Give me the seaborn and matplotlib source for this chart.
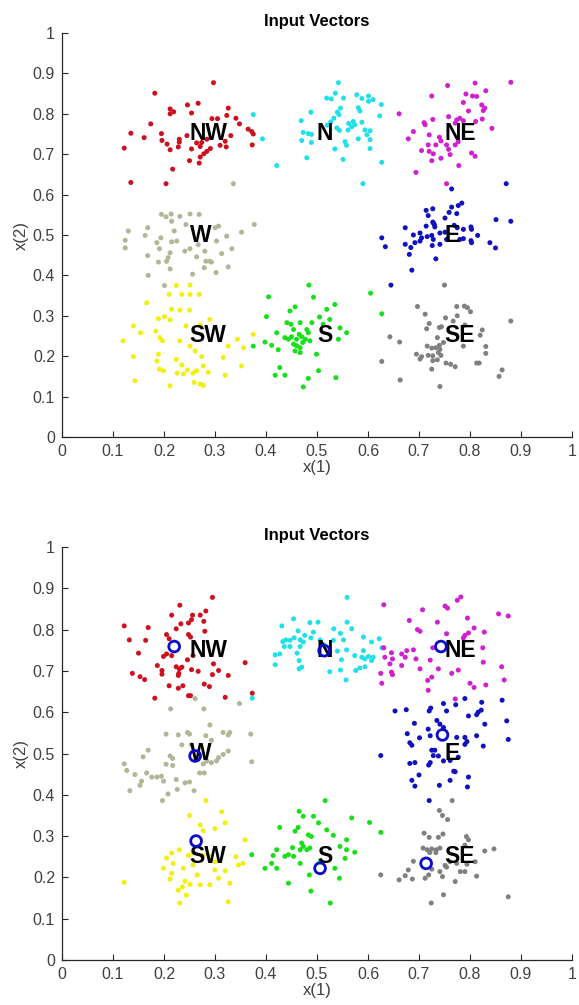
import numpy as np
import pandas as pd
import matplotlib
matplotlib.use('Agg')
from matplotlib import pyplot as plt
import seaborn as sns

# Cluster names, label anchor points and colours
clusters = ['NW', 'N', 'NE', 'W', 'E', 'SW', 'S', 'SE']
centers_x = [0.25, 0.50, 0.75, 0.25, 0.75, 0.25, 0.50, 0.75]
centers_y = [0.75, 0.75, 0.75, 0.50, 0.50, 0.25, 0.25, 0.25]
colors = ['#cc1020', '#20e0e8', '#d020d0', '#b4b496', '#1010c0', '#f0f010', '#18e018', '#808080']

# ## Top panel: input vectors (x, y) per cluster
top_NW = [(0.297, 0.877), (0.182, 0.851), (0.212, 0.812), (0.219, 0.805), (0.212, 0.800), (0.246, 0.822),
          (0.267, 0.826), (0.254, 0.802), (0.326, 0.814), (0.323, 0.796), (0.294, 0.788), (0.305, 0.788),
          (0.341, 0.789), (0.348, 0.775), (0.174, 0.775), (0.135, 0.752), (0.161, 0.741), (0.195, 0.751),
          (0.196, 0.734), (0.230, 0.737), (0.230, 0.730), (0.245, 0.746), (0.206, 0.725), (0.212, 0.711),
          (0.228, 0.718), (0.254, 0.713), (0.264, 0.728), (0.271, 0.719), (0.274, 0.729), (0.284, 0.737),
          (0.291, 0.714), (0.284, 0.707), (0.278, 0.701), (0.271, 0.693), (0.250, 0.684), (0.269, 0.678),
          (0.310, 0.722), (0.322, 0.718), (0.320, 0.732), (0.331, 0.746), (0.365, 0.762), (0.372, 0.756),
          (0.375, 0.750), (0.373, 0.723), (0.217, 0.663), (0.122, 0.715), (0.135, 0.630), (0.204, 0.627)]
top_N = [(0.375, 0.798), (0.393, 0.738), (0.421, 0.672), (0.542, 0.877), (0.519, 0.839), (0.528, 0.837),
         (0.536, 0.851), (0.552, 0.839), (0.488, 0.804), (0.540, 0.804), (0.543, 0.798), (0.533, 0.789),
         (0.546, 0.814), (0.527, 0.780), (0.520, 0.772), (0.562, 0.776), (0.469, 0.783), (0.473, 0.754),
         (0.483, 0.751), (0.489, 0.749), (0.470, 0.734), (0.489, 0.729), (0.539, 0.765), (0.544, 0.759),
         (0.561, 0.760), (0.555, 0.731), (0.558, 0.722), (0.535, 0.713), (0.551, 0.687), (0.480, 0.691),
         (0.578, 0.847), (0.588, 0.838), (0.601, 0.844), (0.610, 0.835), (0.601, 0.831), (0.581, 0.815),
         (0.584, 0.807), (0.626, 0.823), (0.623, 0.795), (0.571, 0.781), (0.574, 0.773), (0.588, 0.779),
         (0.568, 0.768), (0.594, 0.760), (0.604, 0.758), (0.598, 0.748), (0.604, 0.736), (0.581, 0.738),
         (0.604, 0.714), (0.627, 0.680), (0.590, 0.627)]
top_NE = [(0.756, 0.870), (0.810, 0.876), (0.880, 0.878), (0.725, 0.844), (0.792, 0.849), (0.805, 0.844),
          (0.813, 0.843), (0.831, 0.857), (0.787, 0.828), (0.823, 0.822), (0.829, 0.814), (0.826, 0.808),
          (0.797, 0.807), (0.661, 0.800), (0.758, 0.793), (0.727, 0.786), (0.710, 0.778), (0.712, 0.773),
          (0.774, 0.785), (0.780, 0.789), (0.787, 0.783), (0.771, 0.777), (0.811, 0.781), (0.824, 0.787),
          (0.843, 0.764), (0.689, 0.756), (0.720, 0.748), (0.679, 0.738), (0.740, 0.742), (0.743, 0.733),
          (0.733, 0.723), (0.754, 0.723), (0.758, 0.712), (0.771, 0.723), (0.777, 0.731), (0.705, 0.709),
          (0.718, 0.723), (0.720, 0.707), (0.728, 0.701), (0.725, 0.684), (0.743, 0.690), (0.761, 0.699),
          (0.803, 0.703), (0.810, 0.695), (0.778, 0.672), (0.694, 0.655), (0.754, 0.627)]
top_W = [(0.195, 0.551), (0.204, 0.545), (0.214, 0.552), (0.231, 0.546), (0.251, 0.552), (0.269, 0.551),
         (0.215, 0.534), (0.243, 0.526), (0.336, 0.627), (0.377, 0.526), (0.168, 0.518), (0.300, 0.518),
         (0.307, 0.522), (0.130, 0.510), (0.124, 0.487), (0.124, 0.468), (0.163, 0.499), (0.194, 0.493),
         (0.186, 0.481), (0.215, 0.483), (0.225, 0.485), (0.212, 0.456), (0.208, 0.444), (0.205, 0.435),
         (0.191, 0.466), (0.189, 0.433), (0.168, 0.449), (0.169, 0.400), (0.201, 0.375), (0.212, 0.416),
         (0.220, 0.510), (0.241, 0.460), (0.251, 0.466), (0.264, 0.446), (0.256, 0.403), (0.267, 0.476),
         (0.280, 0.460), (0.282, 0.435), (0.290, 0.435), (0.293, 0.433), (0.302, 0.407), (0.279, 0.419),
         (0.303, 0.485), (0.313, 0.454), (0.323, 0.497), (0.326, 0.421), (0.333, 0.466), (0.352, 0.507)]
top_E = [(0.764, 0.614), (0.871, 0.627), (0.784, 0.579), (0.777, 0.573), (0.764, 0.569), (0.714, 0.561),
         (0.727, 0.565), (0.718, 0.548), (0.759, 0.556), (0.774, 0.553), (0.751, 0.542), (0.727, 0.532),
         (0.730, 0.526), (0.851, 0.538), (0.880, 0.534), (0.673, 0.518), (0.714, 0.522), (0.728, 0.530),
         (0.731, 0.520), (0.769, 0.524), (0.775, 0.518), (0.787, 0.514), (0.802, 0.520), (0.803, 0.514),
         (0.627, 0.493), (0.634, 0.471), (0.689, 0.500), (0.702, 0.505), (0.705, 0.493), (0.702, 0.485),
         (0.692, 0.481), (0.684, 0.469), (0.673, 0.477), (0.716, 0.496), (0.725, 0.499), (0.728, 0.489),
         (0.726, 0.474), (0.741, 0.477), (0.741, 0.505), (0.751, 0.507), (0.754, 0.489), (0.780, 0.489),
         (0.787, 0.491), (0.802, 0.486), (0.803, 0.481), (0.815, 0.499), (0.839, 0.481), (0.850, 0.468),
         (0.681, 0.452), (0.733, 0.441), (0.686, 0.413), (0.645, 0.376)]
top_SW = [(0.251, 0.376), (0.224, 0.375), (0.210, 0.353), (0.235, 0.353), (0.251, 0.353), (0.269, 0.353),
          (0.166, 0.332), (0.215, 0.316), (0.231, 0.314), (0.250, 0.314), (0.201, 0.298), (0.189, 0.293),
          (0.212, 0.290), (0.140, 0.275), (0.154, 0.258), (0.184, 0.262), (0.120, 0.238), (0.192, 0.246),
          (0.197, 0.238), (0.290, 0.291), (0.271, 0.277), (0.243, 0.275), (0.189, 0.205), (0.140, 0.199),
          (0.186, 0.188), (0.143, 0.139), (0.191, 0.168), (0.199, 0.164), (0.212, 0.127), (0.224, 0.192),
          (0.235, 0.178), (0.226, 0.158), (0.238, 0.156), (0.246, 0.166), (0.257, 0.158), (0.264, 0.164),
          (0.251, 0.225), (0.261, 0.213), (0.274, 0.199), (0.277, 0.176), (0.287, 0.160), (0.259, 0.135),
          (0.271, 0.131), (0.277, 0.128), (0.320, 0.153), (0.316, 0.197), (0.326, 0.225), (0.344, 0.242),
          (0.356, 0.221), (0.352, 0.176), (0.375, 0.254), (0.231, 0.238)]
top_S = [(0.484, 0.376), (0.493, 0.346), (0.405, 0.347), (0.447, 0.312), (0.457, 0.322), (0.401, 0.298),
         (0.519, 0.316), (0.535, 0.328), (0.505, 0.297), (0.467, 0.283), (0.490, 0.283), (0.441, 0.283),
         (0.449, 0.279), (0.454, 0.266), (0.480, 0.266), (0.483, 0.258), (0.465, 0.254), (0.437, 0.246),
         (0.444, 0.242), (0.450, 0.248), (0.460, 0.242), (0.470, 0.248), (0.472, 0.234), (0.477, 0.242),
         (0.486, 0.238), (0.454, 0.230), (0.460, 0.226), (0.467, 0.221), (0.457, 0.213), (0.467, 0.209),
         (0.421, 0.258), (0.424, 0.216), (0.398, 0.235), (0.411, 0.227), (0.375, 0.225), (0.499, 0.205),
         (0.503, 0.164), (0.427, 0.172), (0.437, 0.153), (0.418, 0.153), (0.483, 0.145), (0.473, 0.124),
         (0.537, 0.147), (0.545, 0.270), (0.558, 0.258), (0.542, 0.242), (0.525, 0.291), (0.512, 0.279),
         (0.605, 0.356), (0.627, 0.305)]
top_SE = [(0.750, 0.376), (0.697, 0.323), (0.712, 0.304), (0.774, 0.323), (0.789, 0.324), (0.795, 0.320),
          (0.801, 0.310), (0.775, 0.300), (0.767, 0.287), (0.752, 0.295), (0.720, 0.281), (0.715, 0.268),
          (0.740, 0.271), (0.744, 0.273), (0.736, 0.246), (0.748, 0.234), (0.740, 0.227), (0.741, 0.217),
          (0.733, 0.221), (0.716, 0.225), (0.725, 0.220), (0.738, 0.209), (0.743, 0.202), (0.727, 0.201),
          (0.718, 0.202), (0.705, 0.199), (0.695, 0.205), (0.702, 0.193), (0.727, 0.189), (0.736, 0.191),
          (0.753, 0.183), (0.762, 0.180), (0.771, 0.174), (0.725, 0.168), (0.662, 0.235), (0.643, 0.248),
          (0.627, 0.187), (0.663, 0.141), (0.741, 0.125), (0.787, 0.225), (0.790, 0.277), (0.824, 0.265),
          (0.820, 0.252), (0.831, 0.224), (0.831, 0.207), (0.813, 0.183), (0.818, 0.183), (0.863, 0.166),
          (0.857, 0.150), (0.880, 0.287)]

# ## Bottom panel: input vectors (x, y) per cluster
bot_NW = [(0.295, 0.878), (0.231, 0.859), (0.215, 0.835), (0.256, 0.835), (0.271, 0.835), (0.282, 0.845),
          (0.278, 0.820), (0.233, 0.814), (0.248, 0.816), (0.254, 0.824), (0.224, 0.802), (0.169, 0.805),
          (0.122, 0.809), (0.248, 0.788), (0.252, 0.782), (0.280, 0.796), (0.205, 0.788), (0.210, 0.778),
          (0.132, 0.775), (0.164, 0.774), (0.150, 0.743), (0.199, 0.735), (0.205, 0.741), (0.215, 0.737),
          (0.246, 0.727), (0.257, 0.737), (0.230, 0.705), (0.224, 0.710), (0.235, 0.709), (0.254, 0.703),
          (0.267, 0.699), (0.297, 0.717), (0.307, 0.701), (0.326, 0.689), (0.359, 0.720), (0.187, 0.713),
          (0.196, 0.701), (0.196, 0.692), (0.138, 0.694), (0.153, 0.686), (0.162, 0.679), (0.229, 0.694),
          (0.228, 0.689), (0.210, 0.664), (0.228, 0.658), (0.237, 0.664), (0.279, 0.668), (0.289, 0.662),
          (0.295, 0.691), (0.182, 0.634), (0.248, 0.640), (0.252, 0.640), (0.320, 0.636), (0.373, 0.646)]
bot_N = [(0.373, 0.634), (0.559, 0.878), (0.454, 0.826), (0.431, 0.809), (0.486, 0.817), (0.502, 0.818),
         (0.463, 0.797), (0.476, 0.786), (0.493, 0.794), (0.533, 0.802), (0.546, 0.791), (0.559, 0.818),
         (0.433, 0.771), (0.439, 0.775), (0.447, 0.774), (0.455, 0.780), (0.467, 0.775), (0.473, 0.770),
         (0.488, 0.780), (0.506, 0.775), (0.514, 0.763), (0.532, 0.774), (0.552, 0.775), (0.418, 0.739),
         (0.427, 0.741), (0.436, 0.759), (0.447, 0.759), (0.461, 0.743), (0.467, 0.759), (0.418, 0.715),
         (0.465, 0.725), (0.465, 0.705), (0.470, 0.709), (0.525, 0.698), (0.546, 0.702), (0.557, 0.678),
         (0.540, 0.748), (0.548, 0.727), (0.558, 0.751), (0.568, 0.802), (0.591, 0.782), (0.607, 0.770),
         (0.622, 0.778), (0.627, 0.756), (0.591, 0.749), (0.574, 0.737), (0.588, 0.733), (0.594, 0.729),
         (0.601, 0.735), (0.610, 0.733), (0.607, 0.725), (0.594, 0.710), (0.584, 0.707), (0.576, 0.701)]
bot_NE = [(0.631, 0.860), (0.775, 0.871), (0.782, 0.879), (0.751, 0.857), (0.756, 0.852), (0.707, 0.848),
          (0.681, 0.822), (0.736, 0.818), (0.697, 0.800), (0.702, 0.796), (0.795, 0.828), (0.808, 0.804),
          (0.828, 0.794), (0.856, 0.838), (0.875, 0.833), (0.754, 0.790), (0.790, 0.786), (0.797, 0.792),
          (0.787, 0.780), (0.631, 0.756), (0.633, 0.733), (0.646, 0.744), (0.648, 0.729), (0.666, 0.741),
          (0.673, 0.733), (0.676, 0.749), (0.689, 0.751), (0.694, 0.729), (0.666, 0.713), (0.643, 0.717),
          (0.646, 0.697), (0.648, 0.691), (0.625, 0.694), (0.627, 0.670), (0.702, 0.705), (0.722, 0.726),
          (0.727, 0.756), (0.738, 0.705), (0.764, 0.694), (0.777, 0.702), (0.825, 0.756), (0.826, 0.721),
          (0.862, 0.710), (0.867, 0.678), (0.717, 0.677), (0.725, 0.685), (0.718, 0.653), (0.800, 0.670),
          (0.808, 0.660), (0.831, 0.666), (0.771, 0.632)]
bot_W = [(0.261, 0.633), (0.213, 0.608), (0.278, 0.608), (0.348, 0.621), (0.290, 0.569), (0.204, 0.547),
         (0.228, 0.545), (0.246, 0.551), (0.250, 0.547), (0.282, 0.543), (0.293, 0.532), (0.316, 0.551),
         (0.326, 0.545), (0.329, 0.551), (0.370, 0.547), (0.235, 0.521), (0.254, 0.521), (0.169, 0.508),
         (0.159, 0.492), (0.212, 0.494), (0.217, 0.488), (0.204, 0.474), (0.217, 0.471), (0.122, 0.475),
         (0.127, 0.459), (0.143, 0.449), (0.156, 0.433), (0.166, 0.453), (0.176, 0.443), (0.186, 0.443),
         (0.195, 0.445), (0.199, 0.433), (0.224, 0.437), (0.241, 0.429), (0.250, 0.431), (0.153, 0.423),
         (0.133, 0.410), (0.208, 0.402), (0.226, 0.413), (0.259, 0.410), (0.197, 0.386), (0.277, 0.475),
         (0.284, 0.482), (0.293, 0.478), (0.303, 0.482), (0.307, 0.490), (0.316, 0.498), (0.326, 0.506),
         (0.270, 0.453), (0.279, 0.453), (0.372, 0.480)]
bot_E = [(0.790, 0.633), (0.863, 0.629), (0.653, 0.603), (0.675, 0.606), (0.720, 0.603), (0.723, 0.610),
         (0.748, 0.621), (0.754, 0.603), (0.772, 0.618), (0.797, 0.591), (0.813, 0.594), (0.816, 0.600),
         (0.822, 0.605), (0.823, 0.624), (0.691, 0.573), (0.872, 0.579), (0.829, 0.571), (0.735, 0.580),
         (0.741, 0.571), (0.748, 0.563), (0.718, 0.559), (0.677, 0.548), (0.701, 0.538), (0.722, 0.543),
         (0.682, 0.526), (0.686, 0.520), (0.725, 0.508), (0.731, 0.508), (0.728, 0.495), (0.738, 0.494),
         (0.722, 0.478), (0.719, 0.472), (0.682, 0.476), (0.692, 0.478), (0.700, 0.448), (0.686, 0.435),
         (0.692, 0.421), (0.740, 0.423), (0.761, 0.435), (0.768, 0.457), (0.771, 0.456), (0.777, 0.491),
         (0.761, 0.483), (0.748, 0.482), (0.774, 0.539), (0.790, 0.539), (0.794, 0.529), (0.790, 0.522),
         (0.813, 0.543), (0.826, 0.518), (0.797, 0.443), (0.795, 0.419), (0.875, 0.534), (0.625, 0.495),
         (0.720, 0.386)]
bot_SW = [(0.282, 0.386), (0.250, 0.350), (0.271, 0.327), (0.313, 0.359), (0.277, 0.313), (0.300, 0.318),
          (0.320, 0.332), (0.230, 0.267), (0.205, 0.247), (0.218, 0.234), (0.248, 0.253), (0.276, 0.253),
          (0.290, 0.250), (0.300, 0.238), (0.341, 0.250), (0.359, 0.291), (0.238, 0.222), (0.257, 0.230),
          (0.265, 0.206), (0.241, 0.191), (0.251, 0.183), (0.236, 0.177), (0.215, 0.210), (0.212, 0.196),
          (0.199, 0.222), (0.228, 0.169), (0.231, 0.138), (0.271, 0.182), (0.290, 0.182), (0.307, 0.198),
          (0.320, 0.216), (0.329, 0.186), (0.346, 0.230), (0.355, 0.234), (0.326, 0.141), (0.122, 0.188),
          (0.300, 0.218), (0.257, 0.259), (0.215, 0.259), (0.244, 0.157)]
bot_S = [(0.516, 0.386), (0.465, 0.360), (0.473, 0.348), (0.493, 0.348), (0.503, 0.332), (0.427, 0.321),
         (0.463, 0.321), (0.457, 0.312), (0.483, 0.303), (0.489, 0.299), (0.519, 0.315), (0.532, 0.302),
         (0.470, 0.283), (0.473, 0.275), (0.480, 0.267), (0.486, 0.271), (0.467, 0.267), (0.452, 0.272),
         (0.444, 0.255), (0.437, 0.251), (0.454, 0.251), (0.421, 0.267), (0.414, 0.253), (0.411, 0.234),
         (0.398, 0.222), (0.372, 0.255), (0.421, 0.222), (0.467, 0.234), (0.485, 0.206), (0.444, 0.186),
         (0.488, 0.167), (0.526, 0.138), (0.545, 0.275), (0.555, 0.246), (0.558, 0.267), (0.535, 0.222),
         (0.544, 0.198), (0.558, 0.291), (0.506, 0.238), (0.568, 0.344), (0.603, 0.333), (0.625, 0.309),
         (0.574, 0.261)]
bot_SE = [(0.765, 0.386), (0.740, 0.362), (0.746, 0.350), (0.756, 0.340), (0.710, 0.307), (0.720, 0.297),
          (0.738, 0.297), (0.747, 0.305), (0.793, 0.299), (0.797, 0.291), (0.790, 0.278), (0.708, 0.271),
          (0.716, 0.267), (0.725, 0.269), (0.734, 0.267), (0.741, 0.271), (0.721, 0.260), (0.733, 0.260),
          (0.829, 0.264), (0.847, 0.269), (0.689, 0.239), (0.751, 0.229), (0.754, 0.225), (0.781, 0.214),
          (0.790, 0.214), (0.794, 0.232), (0.810, 0.238), (0.741, 0.214), (0.746, 0.202), (0.725, 0.220),
          (0.719, 0.206), (0.712, 0.198), (0.679, 0.218), (0.673, 0.204), (0.661, 0.194), (0.687, 0.196),
          (0.813, 0.203), (0.771, 0.190), (0.625, 0.206), (0.748, 0.158), (0.724, 0.138), (0.875, 0.153),
          (0.761, 0.238), (0.774, 0.234)]

# Trained weight vectors (blue circles, bottom panel)
weights_x = [0.220, 0.514, 0.743, 0.261, 0.746, 0.263, 0.506, 0.714]
weights_y = [0.759, 0.749, 0.759, 0.494, 0.545, 0.288, 0.222, 0.234]


def to_df(groups):
    rows = []
    for name, pts in zip(clusters, groups):
        for x, y in pts:
            rows.append((x, y, name))
    return pd.DataFrame(rows, columns=['x1', 'x2', 'cluster'])


def style_axes(ax):
    ax.set_xlim(0, 1)
    ax.set_ylim(0, 1)
    ticks = np.round(np.arange(0, 1.01, 0.1), 1)
    ax.set_xticks(ticks)
    ax.set_yticks(ticks)
    labels = [f'{t:g}' for t in ticks]
    ax.set_xticklabels(labels)
    ax.set_yticklabels(labels)
    ax.tick_params(direction='in', length=4, width=0.8, colors='#262626', labelcolor='#404040',
                   labelsize=11.5, pad=5)
    for s in ['left', 'bottom']:
        ax.spines[s].set_color('#262626')
        ax.spines[s].set_linewidth(0.9)
    sns.despine(ax=ax)
    ax.set_xlabel('x(1)', fontsize=12, color='#404040', labelpad=1)
    ax.set_ylabel('x(2)', fontsize=12, color='#404040', labelpad=3)
    ax.set_title('Input Vectors', fontsize=12, fontweight='bold', color='black', pad=5)
    for name, cx, cy in zip(clusters, centers_x, centers_y):
        ax.text(cx, cy, name, ha='left', va='center', fontsize=16.5, fontweight='bold', color='black')


sns.set_style('ticks')
plt.rcParams['font.family'] = ['Liberation Sans', 'DejaVu Sans']

palette = dict(zip(clusters, colors))

fig = plt.figure(figsize=(5.79, 10.05), dpi=100)
ax1 = fig.add_axes([62 / 579, 1 - 437 / 1005, 510 / 579, 404 / 1005])
ax2 = fig.add_axes([62 / 579, 1 - 960 / 1005, 510 / 579, 413 / 1005])

df_top = to_df([top_NW, top_N, top_NE, top_W, top_E, top_SW, top_S, top_SE])
df_bot = to_df([bot_NW, bot_N, bot_NE, bot_W, bot_E, bot_SW, bot_S, bot_SE])

sns.scatterplot(data=df_top, x='x1', y='x2', hue='cluster', palette=palette, s=13,
                linewidth=0, legend=False, ax=ax1)
sns.scatterplot(data=df_bot, x='x1', y='x2', hue='cluster', palette=palette, s=13,
                linewidth=0, legend=False, ax=ax2)

style_axes(ax1)
style_axes(ax2)

sns.scatterplot(x=weights_x, y=weights_y, marker='o', s=60, facecolor='none',
                edgecolor='#0a0acc', linewidth=2, legend=False, ax=ax2, zorder=5)

fig.savefig('out.png', dpi=100)
